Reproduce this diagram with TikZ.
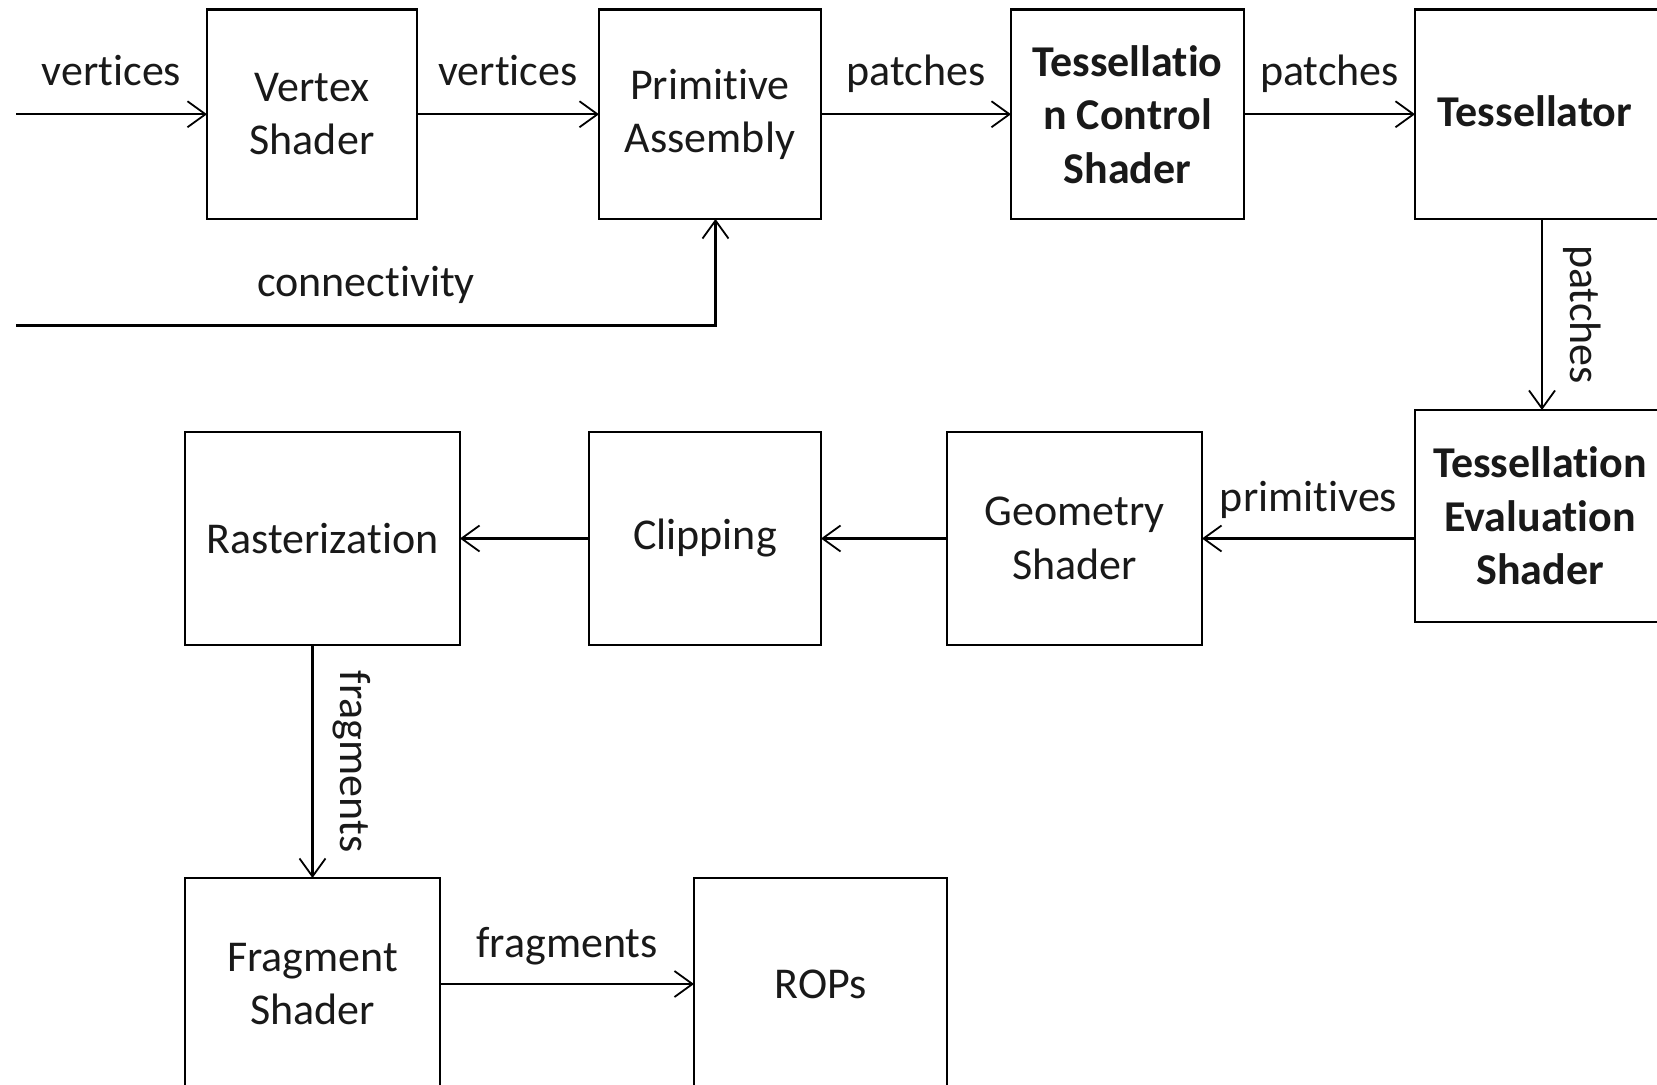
\documentclass[tikz,border=0pt]{standalone}
\usepackage{fontspec}
\setmainfont{Carlito}[RawFeature={-liga;-clig;-calt;-dlig}]
\usetikzlibrary{arrows.meta}
\begin{document}
\begin{tikzpicture}[x=0.5pt,y=-0.5pt,
  txt/.style={font=\fontsize{22}{26.75}\selectfont, text=black!90},
  box/.style={txt, draw, line width=1.1pt, inner sep=0pt, outer sep=0pt, anchor=north west, align=center},
  lbl/.style={txt, anchor=base, inner sep=0pt},
  arr/.style={line width=1.1pt, -{Straight Barb[length=9pt,width=13pt,line width=0.9pt]}},
  wire/.style={line width=1.1pt}]
\useasboundingbox (0,0) rectangle (1657,1085);
\clip (0,0) rectangle (1657,1085);
% boxes
\node[box, minimum width=105pt, minimum height=104.75pt] (vs) at (207,9.5) {Vertex\\Shader};
\node[box, minimum width=111pt, minimum height=104.75pt] (pa) at (599,9.5) {Primitive\\Assembly};
\node[box, minimum width=116.5pt, minimum height=104.75pt, font=\fontsize{22}{26.75}\selectfont\bfseries] (tcs) at (1011,9.5) {Tessellatio\\n Control\\Shader};
\node[box, minimum width=150pt, minimum height=104.75pt] (tess) at (1415,9.5) {};
\node[lbl, font=\fontsize{22}{26.75}\selectfont\bfseries] (tesstxt) at (1535,127) {Tessellator};
\node[box, minimum width=150pt, minimum height=106pt] (tes) at (1415,410) {};
\node[txt, align=center, inner sep=0pt, font=\fontsize{22}{26.75}\selectfont\bfseries] (testxt) at (1540,516) {Tessellation\\Evaluation\\Shader};
\node[box, minimum width=127.5pt, minimum height=106.5pt] (gs) at (947,432) {Geometry\\Shader};
\node[box, minimum width=116pt, minimum height=106.5pt] (clip) at (589,432) {Clipping};
\node[box, minimum width=137.5pt, minimum height=106.5pt] (rast) at (185,432) {Rasterization};
\node[box, minimum width=127.5pt, minimum height=106pt] (fs) at (185,878) {Fragment\\Shader};
\node[box, minimum width=126.5pt, minimum height=106pt] (rops) at (694,878) {ROPs};
% free ends
\coordinate (vin) at (16,114.25);
\coordinate (cin) at (16,325.5);
\coordinate (tp) at (1542,0);
% connectors
\draw[arr] (vin) -- (vs.west);
\draw[arr] (vs.east) -- (pa.west);
\draw[arr] (pa.east) -- (tcs.west);
\draw[arr] (tcs.east) -- (tess.west);
\draw[arr] (cin) -| ([xshift=2.75pt]pa.south);
\draw[arr] (tp |- tess.south) -- (tp |- tes.north);
\draw[arr] (tes.west |- gs.east) -- (gs.east);
\draw[arr] (gs.west) -- (clip.east);
\draw[arr] (clip.west) -- (rast.east);
\draw[arr] (fs.north |- rast.south) -- (fs.north);
\draw[arr] (fs.east) -- (rops.west);
% labels
\node[lbl] (l1) at (111.5,86) {vertices};
\node[lbl] (l2) at (508,86) {vertices};
\node[lbl] (l3) at (916,86) {patches};
\node[lbl] (l4) at (1329.5,86) {patches};
\node[lbl] (lconn) at (366,297) {connectivity};
\node[lbl, rotate=-90] (l5) at (1570,314.5) {patches};
\node[lbl] (l6) at (1308.5,511) {primitives};
\node[lbl, rotate=-90] (l7) at (340,761.5) {fragments};
\node[lbl] (l8) at (567,957) {fragments};
\end{tikzpicture}
\end{document}
